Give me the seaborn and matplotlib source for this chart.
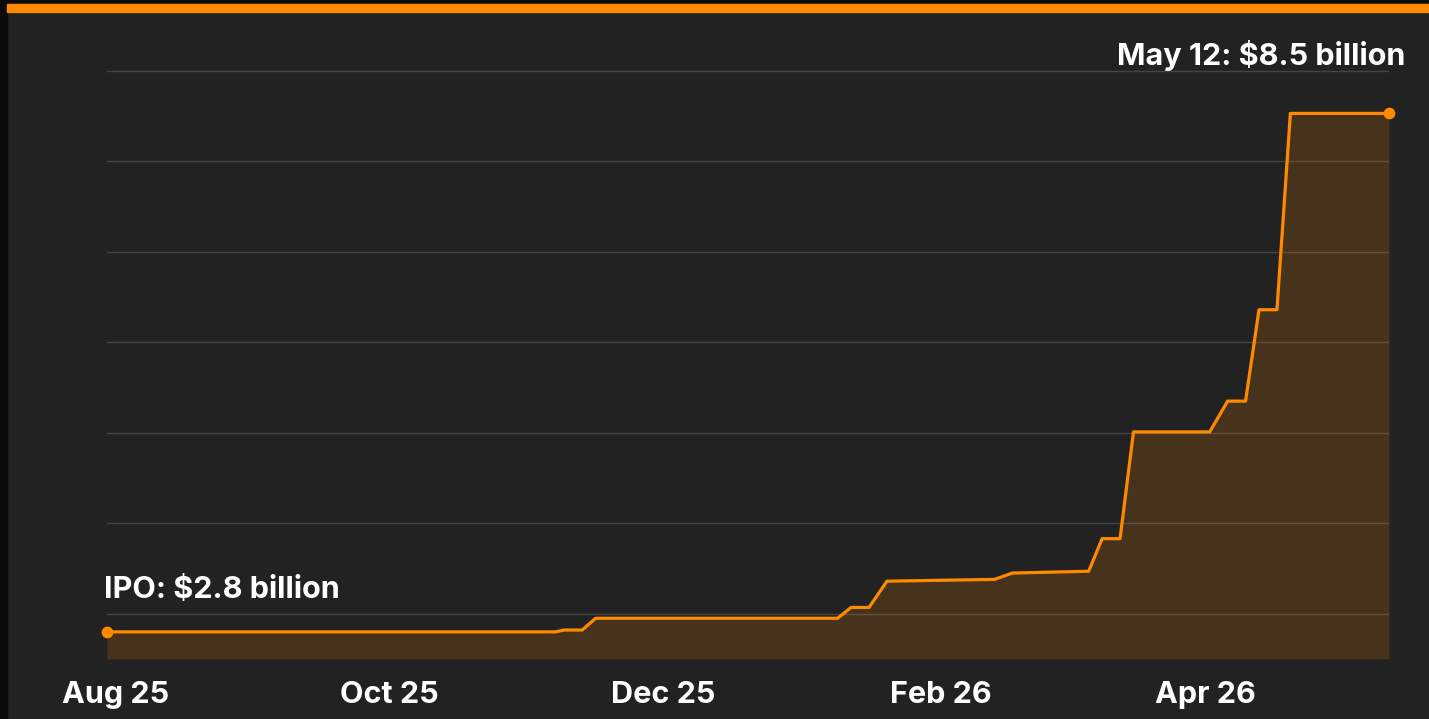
import numpy as np
import pandas as pd
import matplotlib
matplotlib.use('Agg')
import matplotlib.pyplot as plt
import matplotlib.dates as mdates
from matplotlib.patches import Rectangle
import seaborn as sns

sns.set_style('dark')
plt.rcParams['font.family'] = ['Inter', 'DejaVu Sans']

# values (market value, $ billion)
dates = [
    '2025-07-30', '2025-11-07', '2025-11-09', '2025-11-13', '2025-11-16',
    '2026-01-09', '2026-01-12', '2026-01-16', '2026-01-20', '2026-02-13',
    '2026-02-17', '2026-03-06', '2026-03-09', '2026-03-13', '2026-03-16',
    '2026-04-02', '2026-04-06', '2026-04-10', '2026-04-13', '2026-04-17',
    '2026-04-20', '2026-05-12',
]
values = [
    2.8, 2.8, 2.82, 2.82, 2.95,
    2.95, 3.07, 3.07, 3.36, 3.38,
    3.45, 3.47, 3.83, 3.83, 5.01,
    5.01, 5.35, 5.35, 6.36, 6.36,
    8.53, 8.53,
]
tick_dates = ['2025-08-01', '2025-10-01', '2025-12-01', '2026-02-01', '2026-04-01']
start_label = 'IPO: $2.8 billion'
end_label = 'May 12: $8.5 billion'

df = pd.DataFrame({'date': pd.to_datetime(dates), 'value': values})

ORANGE = '#ff8a00'
BG = '#222222'

fig = plt.figure(figsize=(14.29, 7.19), dpi=100, facecolor=BG)
ax = fig.add_axes([107 / 1429, 1 - 659 / 719, (1389 - 107) / 1429, (659 - 60) / 719])
ax.set_facecolor(BG)

# frame: black edge strip + orange band on top
fig.patches.append(Rectangle((0, 0), 7 / 1429, 1, transform=fig.transFigure,
                             color='#0a0a0a', zorder=0))
fig.patches.append(Rectangle((0, 1 - 4 / 719), 1, 4 / 719, transform=fig.transFigure,
                             color='#0a0a0a', zorder=0))
fig.patches.append(Rectangle((7 / 1429, 1 - 12 / 719), 1, 8 / 719, transform=fig.transFigure,
                             color=ORANGE, zorder=1))

ymin, ymax = 2.5, 9.12
ax.fill_between(df['date'], df['value'], ymin, color=ORANGE, alpha=0.17, lw=0, zorder=2)
sns.lineplot(data=df, x='date', y='value', ax=ax, color=ORANGE, lw=2.3, zorder=3)
ends = df.iloc[[0, -1]]
ax.scatter(ends['date'], ends['value'], s=55, color=ORANGE, zorder=4, clip_on=False)

ax.set_xlim(df['date'].iloc[0], df['date'].iloc[-1])
ax.set_ylim(ymin, ymax)

ax.set_yticks(np.arange(3, 10, 1))
ax.yaxis.grid(True, color='#444444', lw=1)
ax.xaxis.grid(False)
ax.set_axisbelow(True)
ax.tick_params(axis='y', left=False, labelleft=False)

xt = list(pd.to_datetime(tick_dates)) + [df['date'].iloc[-1]]
ax.set_xticks(xt)
ax.set_xticklabels([d.strftime('%b %y') for d in pd.to_datetime(tick_dates)] + [''])
ax.tick_params(axis='x', colors='#555555', length=4, width=1, pad=12,
               labelcolor='white', labelsize=22)
for lab in ax.get_xticklabels():
    lab.set_fontweight('bold')

for s in ax.spines.values():
    s.set_visible(False)
ax.set_xlabel('')
ax.set_ylabel('')

ax.annotate(start_label, (df['date'].iloc[0], df['value'].iloc[0]),
            xytext=(-3, 28), textcoords='offset pixels', ha='left', va='bottom',
            color='white', fontsize=22, fontweight='bold')
ax.annotate(end_label, (df['date'].iloc[-1], df['value'].iloc[-1]),
            xytext=(16, 42), textcoords='offset pixels', ha='right', va='bottom',
            color='white', fontsize=22, fontweight='bold', annotation_clip=False)

fig.savefig('out.png', dpi=100, facecolor=BG)
